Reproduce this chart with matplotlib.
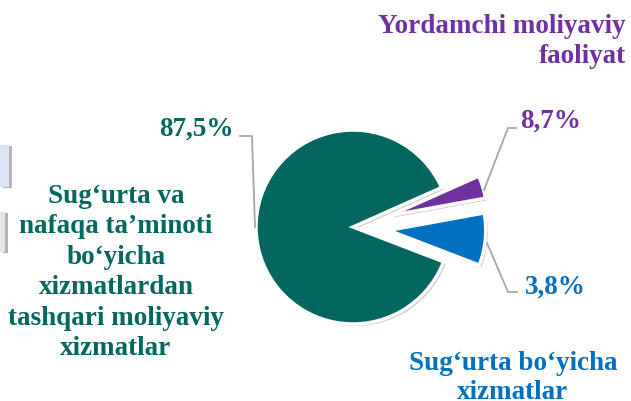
import matplotlib
matplotlib.use("Agg")
import matplotlib.pyplot as plt
import matplotlib.patheffects as pe
from matplotlib.patches import Rectangle

# ---- data ----
categories = ["Sug‘urta va nafaqa ta’minoti bo‘yicha xizmatlardan tashqari moliyaviy xizmatlar",
              "Sug‘urta bo‘yicha xizmatlar",
              "Yordamchi moliyaviy faoliyat"]
slice_shares = [87.5, 8.7, 3.8]          # drawn wedge sizes (as seen in the picture)
value_labels = ["87,5%", "3,8%", "8,7%"]  # label texts as printed
colors = ["#03665F", "#0070C0", "#7030A0"]
explode_frac = [0.0, 0.37, 0.40]          # offset as a fraction of the radius

W, H = 631, 401
fig = plt.figure(figsize=(W / 100, H / 100), dpi=100)
ax = fig.add_axes([0, 0, 1, 1])

def py(y):  # pixel y (top-down) -> data y
    return H - y

cx, cy, R = 353, py(227), 97

wedges, _ = ax.pie(slice_shares, colors=colors, startangle=24, counterclock=True,
                   explode=[e * R for e in explode_frac], radius=R, center=(cx, cy), frame=False,
                   wedgeprops=dict(edgecolor="white", linewidth=2.5))
for w in wedges:
    w.set_path_effects([pe.SimplePatchShadow(offset=(1.5, -1.5), shadow_rgbFace="#808080", alpha=0.45),
                        pe.Normal()])

ax.set_xlim(0, W)
ax.set_ylim(0, H)
ax.set_aspect("equal")
ax.axis("off")

# leader lines
lc = "#A6A6A6"
ax.plot([240, 252, 255], [py(136), py(136), py(227)], color=lc, lw=1.3)
ax.plot([484, 508, 516], [py(190), py(128), py(128)], color=lc, lw=1.3)
ax.plot([487, 508, 517], [py(243), py(292), py(292)], color=lc, lw=1.3)

font = dict(family="Liberation Serif", fontweight="bold", fontsize=19.5)

# value labels
ax.text(196, py(136), value_labels[0], color=colors[0], ha="center", va="baseline", **font)
ax.text(520, py(128), value_labels[2], color=colors[2], ha="left", va="baseline", **font)
ax.text(525, py(294), value_labels[1], color=colors[1], ha="left", va="baseline", **font)

# category labels
left_lines = ["Sug‘urta va", "nafaqa ta’minoti", "bo‘yicha", "xizmatlardan",
              "tashqari moliyaviy", "xizmatlar"]
for i, s in enumerate(left_lines):
    ax.text(116, py(203 + i * 30.4), s, color=colors[0], ha="center", va="baseline", **font)

top_lines = ["Yordamchi moliyaviy", "faoliyat"]
for i, s in enumerate(top_lines):
    ax.text(626, py(33 + i * 30), s, color=colors[2], ha="right", va="baseline", **font)

bot_lines = ["Sug‘urta bo‘yicha", "xizmatlar"]
for i, s in enumerate(bot_lines):
    ax.text(513, py(370 + i * 29), s, color=colors[1], ha="center", va="baseline", **font)

# cropped decoration at left edge
fig.patches.append(Rectangle((0, (H - 187) / H), 9 / W, 42 / H, transform=fig.transFigure,
                             facecolor="#DCE3F5", edgecolor="none",
                             path_effects=[pe.SimplePatchShadow(offset=(2, -1), alpha=0.4), pe.Normal()]))
fig.patches.append(Rectangle((0, (H - 252) / H), 5 / W, 40 / H, transform=fig.transFigure,
                             facecolor="#E6E6E6", edgecolor="none",
                             path_effects=[pe.SimplePatchShadow(offset=(2, -1), alpha=0.4), pe.Normal()]))

fig.savefig("out.png", dpi=100)
